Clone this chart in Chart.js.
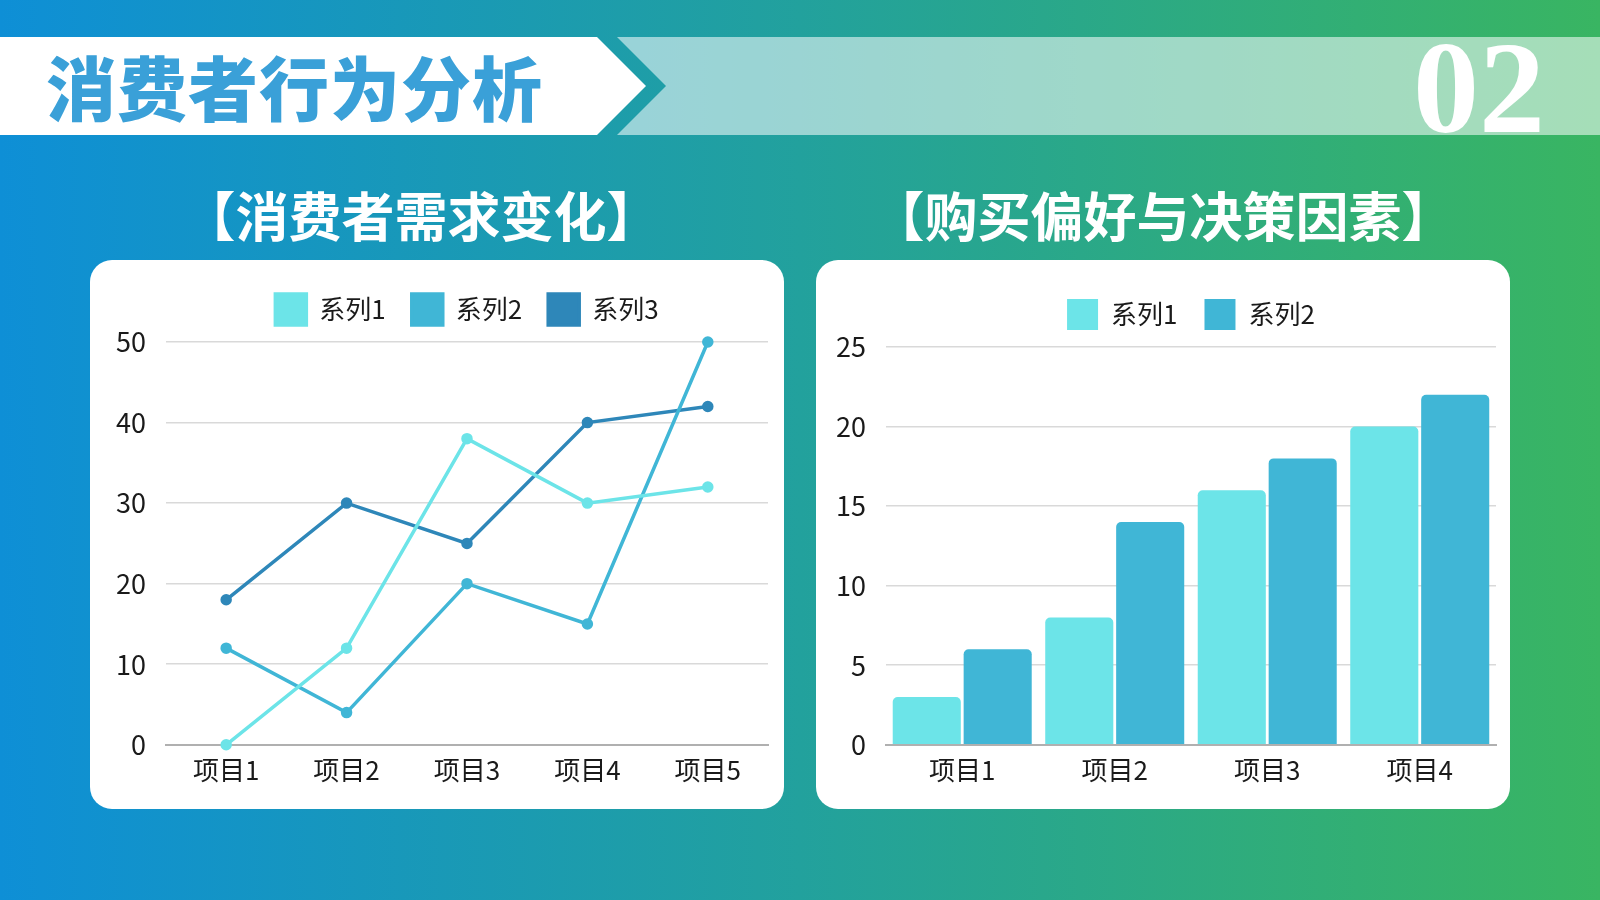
<!DOCTYPE html>
<html lang="zh">
<head>
<meta charset="utf-8">
<title>消费者行为分析</title>
<script src="https://cdn.jsdelivr.net/npm/chart.js@4.4.1/dist/chart.umd.min.js"></script>
<style>
  html, body { margin: 0; padding: 0; }
  body {
    width: 1600px; height: 900px; overflow: hidden; position: relative;
    background: linear-gradient(90deg, #0e8fd6 0%, #22a19d 50%, #39b562 100%);
    font-family: "Noto Sans CJK SC", "Noto Sans", sans-serif;
  }
  .band-white {
    position: absolute; left: 0; top: 37px; width: 646px; height: 98px;
    background: #fff;
    clip-path: polygon(0 0, 597px 0, 646px 49px, 597px 98px, 0 98px);
  }
  .band-light {
    position: absolute; left: 617px; top: 37px; width: 983px; height: 98px;
    background: rgba(255, 255, 255, 0.55);
    clip-path: polygon(0 0, 983px 0, 983px 98px, 0 98px, 49px 49px);
  }
  .title {
    position: absolute; left: 46px; top: 37px; height: 98px; line-height: 98px;
    font-size: 70px; font-weight: 900; color: #3aa0d8; letter-spacing: 1px;
  }
  .num {
    position: absolute; right: 55px; top: 22px;
    font-family: "Liberation Serif", "DejaVu Serif", serif;
    font-size: 132px; font-weight: 700; color: #fff; line-height: 132px;
  }
  .sub {
    position: absolute; top: 182px; width: 700px; text-align: center;
    font-size: 53px; font-weight: 700; color: #fff; line-height: 64px;
  }
  .card {
    position: absolute; top: 260px; width: 694px; height: 549px;
    background: #fff; border-radius: 22px;
  }
  .box { position: absolute; }
</style>
</head>
<body>
<div class="band-white"></div>
<div class="band-light"></div>
<div class="title">消费者行为分析</div>
<div class="num">02</div>
<div class="sub" style="left:71px">【消费者需求变化】</div>
<div class="sub" style="left:813px">【购买偏好与决策因素】</div>

<div class="card" style="left:90px"></div>
<div class="card" style="left:816px"></div>

<div class="box" style="left:92px; top:275px; width:684px; height:513px"><canvas id="lineChart"></canvas></div>
<div class="box" style="left:812px; top:279px; width:692px; height:509px"><canvas id="barChart"></canvas></div>

<script>
// 消费者需求变化 (line)
const lineLabels = ['项目1', '项目2', '项目3', '项目4', '项目5'];
const lineSeries1 = [0, 12, 38, 30, 32];
const lineSeries2 = [12, 4, 20, 15, 50];
const lineSeries3 = [18, 30, 25, 40, 42];
const lineTicks = [0, 10, 20, 30, 40, 50];

// 购买偏好与决策因素 (bar)
const barLabels = ['项目1', '项目2', '项目3', '项目4'];
const barSeries1 = [3, 8, 16, 20];
const barSeries2 = [6, 14, 18, 22];
const barTicks = [0, 5, 10, 15, 20, 25];

const seriesNames = ['系列1', '系列2', '系列3'];
const COLORS = ['#6ce4e8', '#40b6d6', '#2e87b9'];

const FONT = '"Noto Sans CJK SC", "Noto Sans", sans-serif';
const TEXT = '#1a1a1a';
const GRID = '#d9d9d9';

// centre the legend over the plot area and lift it a little off the plot
const legendOverPlot = {
  id: 'legendOverPlot',
  afterLayout(chart, args, opts) {
    const lg = chart.legend, area = chart.chartArea;
    if (!lg) return;
    const lift = opts.lift || 0;
    lg.left = area.left;
    lg.right = area.right;
    lg.width = area.right - area.left;
    lg.top -= lift;
    lg.bottom -= lift;
    lg.adjustHitBoxes();
  },
};

function legendOpts(pad) {
  return {
    display: true,
    position: 'top',
    labels: {
      color: TEXT, boxWidth: 31, boxHeight: 31, padding: pad,
      font: { family: FONT, size: 26 },
    },
  };
}

function yAxis(ticks) {
  return {
    min: ticks[0],
    max: ticks[ticks.length - 1],
    afterBuildTicks: axis => { axis.ticks = ticks.map(v => ({ value: v })); },
    grid: { color: GRID, lineWidth: 1.5, drawTicks: false },
    border: { display: false },
    ticks: { color: TEXT, padding: 20, font: { family: FONT, size: 27 } },
  };
}

function xAxis() {
  return {
    offset: true,
    grid: { display: false },
    border: { display: true, color: '#b0b0b0', width: 2 },
    ticks: { color: TEXT, padding: 2, font: { family: FONT, size: 26 } },
  };
}

const lineData = [lineSeries1, lineSeries2, lineSeries3];
new Chart(document.getElementById('lineChart'), {
  type: 'line',
  data: {
    labels: lineLabels,
    datasets: lineData.map((values, i) => ({
      label: seriesNames[i],
      data: values,
      borderColor: COLORS[i],
      backgroundColor: COLORS[i],
      pointBackgroundColor: COLORS[i],
      pointBorderColor: COLORS[i],
      borderWidth: 3.5,
      pointRadius: 4,
      tension: 0,
      fill: false,
      clip: false,
    })),
  },
  options: {
    responsive: true,
    maintainAspectRatio: false,
    animation: false,
    layout: { padding: { left: 4, right: 8, top: 0, bottom: 0 } },
    scales: { x: xAxis(), y: yAxis(lineTicks) },
    plugins: {
      legend: legendOpts(26),
      legendOverPlot: { lift: 7 },
      tooltip: { enabled: false },
    },
  },
  plugins: [legendOverPlot],
});

const barData = [barSeries1, barSeries2];
new Chart(document.getElementById('barChart'), {
  type: 'bar',
  data: {
    labels: barLabels,
    datasets: barData.map((values, i) => ({
      label: seriesNames[i],
      data: values,
      backgroundColor: COLORS[i],
      borderRadius: { topLeft: 5, topRight: 5 },
      borderSkipped: 'bottom',
      categoryPercentage: 0.93,
      barPercentage: 0.96,
    })),
  },
  options: {
    responsive: true,
    maintainAspectRatio: false,
    animation: false,
    layout: { padding: { left: 4, right: 8, top: 0, bottom: 0 } },
    scales: { x: xAxis(), y: yAxis(barTicks) },
    plugins: {
      legend: legendOpts(27),
      legendOverPlot: { lift: 7 },
      tooltip: { enabled: false },
    },
  },
  plugins: [legendOverPlot],
});
</script>
</body>
</html>
